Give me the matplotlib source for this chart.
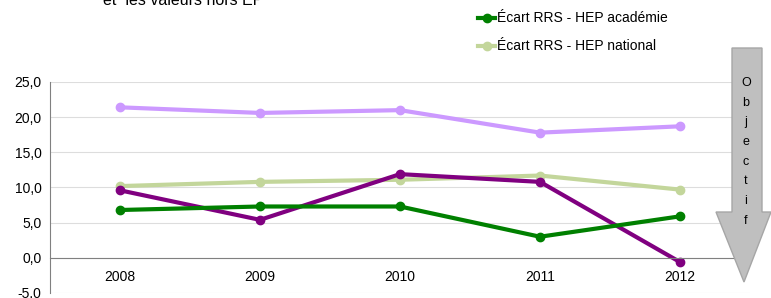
import matplotlib.pyplot as plt
from matplotlib.patches import Polygon

plt.rcParams['font.family'] = ['Liberation Sans', 'DejaVu Sans']

# Data
years = ['2008', '2009', '2010', '2011', '2012']
ecart_light_purple = [21.4, 20.6, 21.0, 17.8, 18.7]
ecart_dark_purple = [9.6, 5.4, 11.9, 10.8, -0.6]
ecart_academie = [6.8, 7.3, 7.3, 3.0, 5.9]
ecart_national = [10.2, 10.8, 11.1, 11.7, 9.7]

W, H = 771, 298
fig = plt.figure(figsize=(W / 100, H / 100), dpi=100)
ax = fig.add_axes([50 / W, 1 - 293 / H, 700 / W, 211 / H])

x = range(len(years))
ax.plot(x, ecart_light_purple, color='#CC99FF', linewidth=3, marker='o', markersize=6)
ax.plot(x, ecart_national, color='#C3D69B', linewidth=3, marker='o', markersize=6)
ax.plot(x, ecart_dark_purple, color='#800080', linewidth=3, marker='o', markersize=6)
l_acad, = ax.plot(x, ecart_academie, color='#008000', linewidth=3, marker='o', markersize=6,
                  label='Écart RRS - HEP académie')
l_nat, = ax.plot([], [], color='#C3D69B', linewidth=3, marker='o', markersize=6,
                 label='Écart RRS - HEP national')

ax.set_xlim(-0.5, 4.5)
ax.set_ylim(-5, 25)
ax.set_yticks([-5, 0, 5, 10, 15, 20, 25])
ax.set_yticklabels(['-5,0', '0,0', '5,0', '10,0', '15,0', '20,0', '25,0'], fontsize=10)
ax.set_xticks(list(x))
ax.set_xticklabels(years, fontsize=10)
ax.grid(axis='y', color='#DDDDDD', linewidth=0.8)
ax.set_axisbelow(True)

ax.spines['top'].set_visible(False)
ax.spines['right'].set_visible(False)
ax.spines['left'].set_color('#808080')
ax.spines['bottom'].set_position(('data', 0))
ax.spines['bottom'].set_color('#808080')
ax.tick_params(axis='both', length=0)
ax.tick_params(axis='x', pad=9)
ax.tick_params(axis='y', pad=6)

fig.legend(handles=[l_acad, l_nat], loc='upper left', bbox_to_anchor=(466 / W, 1 + 1 / H),
           frameon=False, fontsize=10, handlelength=1.2, handletextpad=0.1,
           labelspacing=1.0)

fig.text(103 / W, 1 - 5 / H, 'et  les valeurs hors EP', fontsize=11.5, va='baseline')

# Objectif arrow
pts = [(732, 48), (762, 48), (762, 212), (771, 212), (744, 282), (716, 212), (732, 212)]
arrow = Polygon([(px / W, 1 - py / H) for px, py in pts], closed=True,
                transform=fig.transFigure, facecolor='#BFBFBF', edgecolor='#A6A6A6',
                linewidth=1, zorder=5)
fig.add_artist(arrow)
fig.text(746 / W, 1 - 77 / H, '\n'.join('Objectif'), fontsize=9, ha='center', va='top',
         linespacing=1.85, zorder=6)

fig.savefig('out.png', dpi=100)
